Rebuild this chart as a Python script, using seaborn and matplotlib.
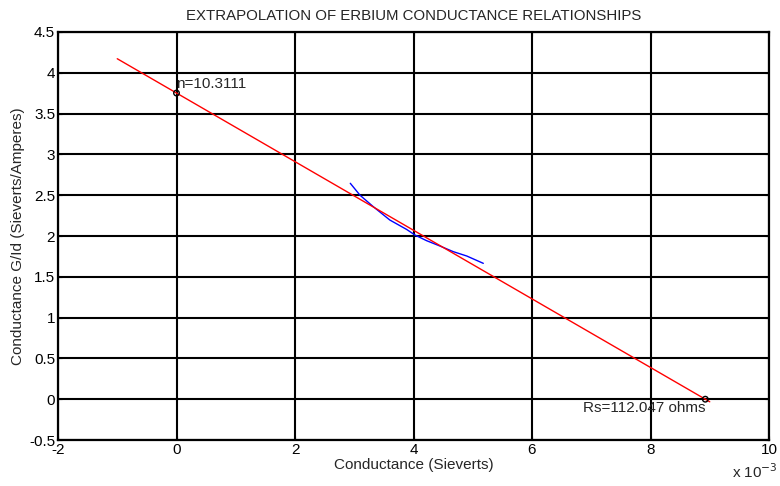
import numpy as np
import pandas as pd
import matplotlib
matplotlib.use("Agg")
import matplotlib.pyplot as plt
import seaborn as sns

# Measured conductance curve (G in Sieverts, G/Id in Sieverts/Amperes)
meas_g = [2.933e-3, 3.097e-3, 3.32e-3, 3.60e-3, 3.885e-3, 4.025e-3, 4.22e-3,
          4.447e-3, 4.672e-3, 4.898e-3, 5.178e-3]
meas_gid = [2.646, 2.50, 2.36, 2.196, 2.08, 2.012, 1.943, 1.877, 1.808, 1.755, 1.665]

# Extrapolated straight-line fit
n_value = 10.3111
rs_value = 112.047
intercept = 3.752
fit_g = [-1.0e-3, 9.0e-3]
fit_gid = [intercept - intercept * rs_value * g for g in fit_g]

marker_g = [0.0, 1.0 / rs_value]
marker_gid = [intercept, 0.0]

sns.set_theme(style="white")
plt.rcParams["font.family"] = ["Liberation Sans", "DejaVu Sans"]

fig = plt.figure(figsize=(7.8, 4.86), dpi=100)
ax = fig.add_axes([58 / 780, 1 - 440 / 486, (769 - 58) / 780, (440 - 32) / 486])

meas = pd.DataFrame({"g": meas_g, "gid": meas_gid})
fit = pd.DataFrame({"g": fit_g, "gid": fit_gid})
marks = pd.DataFrame({"g": marker_g, "gid": marker_gid})

sns.lineplot(data=meas, x="g", y="gid", ax=ax, color="blue", lw=1.0, sort=False)
sns.lineplot(data=fit, x="g", y="gid", ax=ax, color="red", lw=1.0, sort=False)
sns.scatterplot(data=marks, x="g", y="gid", ax=ax, marker="o", s=16,
                facecolor="none", edgecolor="black", linewidth=1.0, zorder=5)

ax.text(marker_g[0], marker_gid[0] + 0.02, f"n={n_value}", fontsize=11,
        ha="left", va="bottom")
ax.text(marker_g[1], marker_gid[1] - 0.02, f"Rs={rs_value} ohms",
        fontsize=11, ha="right", va="top")

ax.set_xlim(-2e-3, 10e-3)
ax.set_ylim(-0.5, 4.5)
xt = np.arange(-2, 11, 2)
ax.set_xticks(xt * 1e-3)
ax.set_xticklabels([str(v) for v in xt])
yt = np.arange(-0.5, 4.51, 0.5)
ax.set_yticks(yt)
ax.set_yticklabels([f"{v:g}" for v in yt])
ax.tick_params(direction="in", length=3, width=0.8, labelsize=11, pad=2,
               colors="black", bottom=True, left=True, top=True, right=True)

ax.grid(True, color="black", lw=1.5, ls="-")
for s in ax.spines.values():
    s.set_color("black")
    s.set_linewidth(1.6)

ax.set_title("EXTRAPOLATION OF ERBIUM CONDUCTANCE RELATIONSHIPS", fontsize=10.8,
             pad=9)
ax.set_xlabel("Conductance (Sieverts)", fontsize=11, labelpad=1)
ax.set_ylabel("Conductance G/Id (Sieverts/Amperes)", fontsize=11, labelpad=3)
fig.text(732 / 780, 1 - 472 / 486, r"x 10$^{-3}$", fontsize=11, ha="left",
         va="center")

fig.savefig("out.png", dpi=100, facecolor="white")
